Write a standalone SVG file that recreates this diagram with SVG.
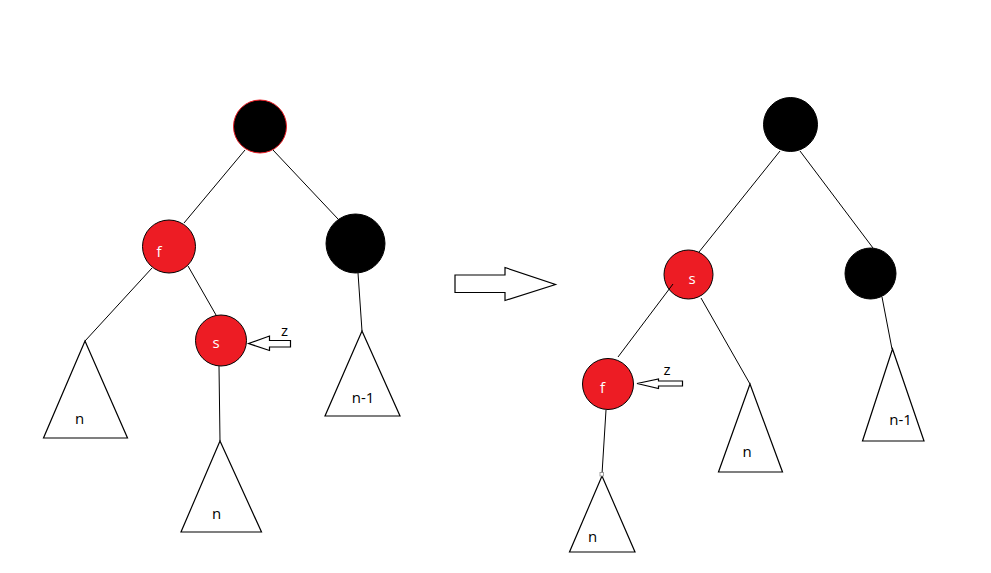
<svg xmlns="http://www.w3.org/2000/svg" width="991" height="573" viewBox="0 0 991 573">
<style>
.edge{stroke:#000;stroke-width:1;fill:none}
.tri{stroke:#000;stroke-width:1.2;fill:#fff}
.red{fill:#ED1C24;stroke:#000;stroke-width:1}
.blk{fill:#000;stroke:#000;stroke-width:1}
.redring{stroke:#ED1C24}
.arrow{fill:#fff;stroke:#000;stroke-width:1.2}
text{font-family:"Open Sans","Noto Sans",sans-serif;font-size:15px;text-anchor:middle}
.wt{fill:#fff}
.bt{fill:#000}
</style>
<rect width="991" height="573" fill="#fff"/>
<g id="connectors">
<line class="edge" x1="245" y1="150" x2="184" y2="223"/>
<line class="edge" x1="273" y1="150" x2="338" y2="219"/>
<line class="edge" x1="152" y1="268" x2="85" y2="341"/>
<line class="edge" x1="188" y1="266" x2="216" y2="315"/>
<line class="edge" x1="219" y1="366" x2="220" y2="441"/>
<line class="edge" x1="358" y1="273" x2="362" y2="331"/>
<line class="edge" x1="780" y1="151" x2="699" y2="252"/>
<line class="edge" x1="800" y1="151" x2="873" y2="248"/>
<line class="edge" x1="701" y1="298" x2="750" y2="384"/>
<line class="edge" x1="882" y1="297" x2="892" y2="349"/>
<line class="edge" x1="606" y1="410" x2="602" y2="474"/>
</g>
<g id="left-root"><circle class="blk redring" cx="260" cy="126.5" r="26.5"/></g>
<g id="left-f"><circle class="red" cx="169" cy="246.5" r="26.5"/><text class="wt" x="159" y="257">f</text></g>
<g id="left-black"><circle class="blk" cx="355.5" cy="243.5" r="29.5"/></g>
<g id="left-s"><circle class="red" cx="221" cy="340.5" r="25.5"/><text class="wt" x="216" y="348">s</text></g>
<g id="left-tri-n1"><polygon class="tri" points="85,341 43.5,438 127.5,438"/><text class="bt" x="79.5" y="424">n</text></g>
<g id="left-tri-n2"><polygon class="tri" points="220,441 181,532 261.5,532"/><text class="bt" x="216.5" y="519">n</text></g>
<g id="left-tri-n-1"><polygon class="tri" points="362,331 325,416 400,416"/><text class="bt" x="363" y="403">n-1</text></g>
<g id="left-z"><polygon class="arrow" points="248.5,343.5 269.5,336 269.5,340.5 290.5,340.5 290.5,347 269.5,347 269.5,350.5"/><text class="bt" x="284.5" y="336">z</text></g>
<g id="big-arrow"><polygon class="arrow" points="455,275 505,275 505,267.5 555.5,284.5 505,300.5 505,292.5 455,292.5"/></g>
<g id="right-root"><circle class="blk" cx="790.5" cy="124.5" r="27"/></g>
<g id="right-s"><circle class="red" cx="688.5" cy="274.5" r="24.5"/><text class="wt" x="692" y="284">s</text></g>
<line class="edge" x1="673" y1="284" x2="618" y2="357"/>
<g id="right-black"><circle class="blk" cx="870.5" cy="273.5" r="25.5"/></g>
<g id="right-f"><circle class="red" cx="608" cy="384" r="25.5"/><text class="wt" x="602.5" y="393">f</text></g>
<g id="right-z"><polygon class="arrow" points="637,383.5 658.5,379 658.5,381 682.5,381 682.5,386 658.5,386 658.5,388.5"/><text class="bt" x="667" y="375">z</text></g>
<g id="right-tri-n1"><polygon class="tri" points="602,476 569.5,552 635,552"/><rect x="600" y="472.5" width="3.5" height="3.5" fill="#fff" stroke="#888" stroke-width="0.8"/><text class="bt" x="592.5" y="542">n</text></g>
<g id="right-tri-n2"><polygon class="tri" points="750,384 718.5,472 782.5,472"/><text class="bt" x="747" y="457">n</text></g>
<g id="right-tri-n-1"><polygon class="tri" points="892.5,349 862.5,441 924,441"/><text class="bt" x="900.5" y="425">n-1</text></g>
</svg>
